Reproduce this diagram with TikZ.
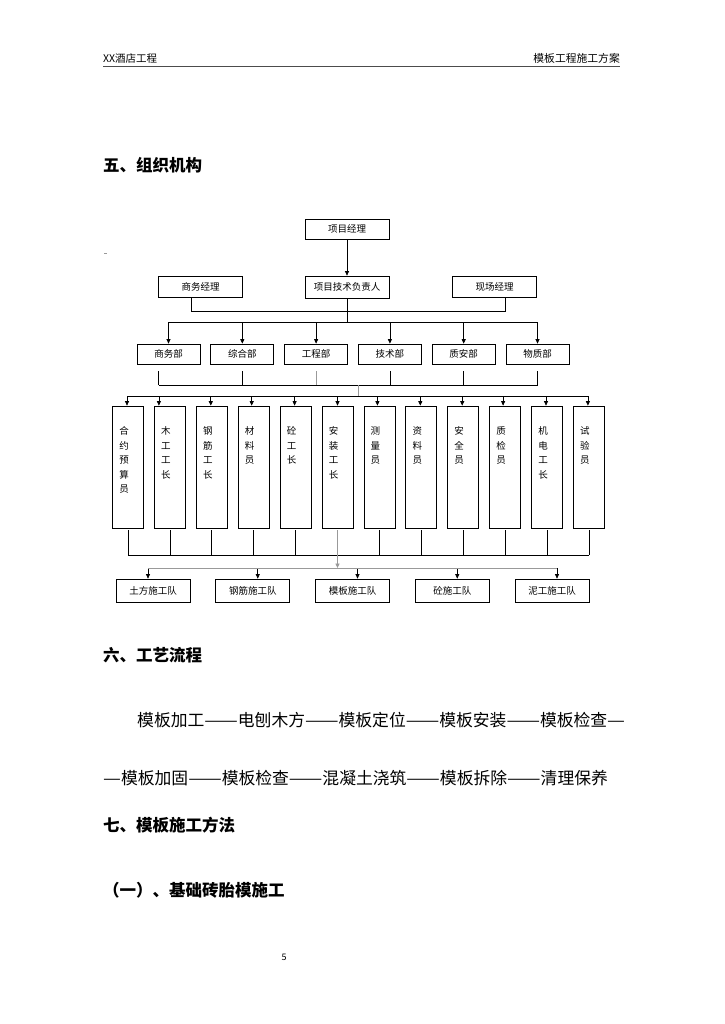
\documentclass[tikz,border=0pt]{standalone}
\usepackage{fontspec}
\setmainfont{Noto Sans CJK SC}
\newfontfamily\dashfont{Noto Sans CJK SC}[FakeStretch=1.19]
\usetikzlibrary{arrows.meta}
\usetikzlibrary{calc}
\usetikzlibrary{positioning}

\begin{document}
\begin{tikzpicture}
  [
    x = 1pt, y = -1pt,
    box/.style = {rectangle, draw = black, line width = 0.7pt, minimum width = 84pt, minimum height = 21pt, inner sep = 0pt, font = \fontsize{9.5}{11}\selectfont},
    dept/.style = {box, minimum width = 63pt, minimum height = 20pt},
    post/.style = {box, minimum width = 31pt, minimum height = 122pt},
    postlabel/.style = {inner sep = 0pt, align = center, font = \fontsize{9.5}{14.5}\selectfont},
    team/.style = {box, minimum width = 74pt, minimum height = 23pt},
    link/.style = {line width = 0.7pt, draw = black},
    greylink/.style = {line width = 0.9pt, draw = black!40},
    flow/.style = {link, -{Triangle[length = 4.5pt, width = 4pt]}},
    heading/.style = {anchor = west, inner sep = 0pt, font = \fontsize{16.5}{18}\selectfont\bfseries},
    body/.style = {anchor = west, inner sep = 0pt, font = \fontsize{16.8}{18}\selectfont},
  ]
  \fill [white] (0,0) rectangle (724,1024);

  % page header
  \node (hdleft) [anchor = base west, inner sep = 0pt, font = \fontsize{10.5}{12}\selectfont] at (103,63) {XX酒店工程};
  \node (hdright) [anchor = base east, inner sep = 0pt, font = \fontsize{10.8}{12}\selectfont] at (620,63) {模板工程施工方案};
  \draw [line width = 0.9pt, black!70] (103,66) -- (620,66);

  \node (sec5) [heading] at (103,165) {五、组织机构};
  \draw [black!40, line width = 0.6pt] (104,253) -- (107,253);

  % managers
  \node (pm) [box, minimum height = 20pt] at (347,229) {项目经理};
  \node (biz) [box] at (200.5,287) {商务经理};
  \node (tech) [box, minimum height = 22pt] at (347,287) {项目技术负责人};
  \node (site) [box] at (494.5,287) {现场经理};
  \coordinate (mgrbar) at (347,311);
  \coordinate (deptbar) at (347,322);
  \coordinate (bizdrop) at ($(biz.south)+(-9,0)$);
  \coordinate (sitedrop) at ($(site.south)+(11,0)$);
  \draw [flow] (pm) -- (tech);
  \draw [link] (bizdrop) |- (sitedrop |- mgrbar) -- (sitedrop);
  \draw [link] (tech.south) -- (tech.south |- deptbar);

  % departments
  \foreach \name [count = \i] in {商务部, 综合部, 工程部, 技术部, 质安部, 物质部}
    \node (d\i) [dept] at ({168.5 + 73.8*(\i-1)}, 354) {\name};
  \draw [link] (d1 |- deptbar) -- (d6 |- deptbar);
  \foreach \i in {1,...,6}
    \draw [flow] (d\i |- deptbar) -- (d\i);

  \coordinate (deptfoot) at (347,385);
  \coordinate (postbar) at (358,396);
  \foreach \i/\dx/\look in {1/-10/link, 2/0/link, 3/0/greylink, 4/0/link, 5/0/link, 6/0/link}
  {
    \coordinate (s\i) at ($(d\i.south)+(\dx,7)$);
    \draw [\look] (s\i) -- (s\i |- deptfoot);
  }
  \draw [link] (s1 |- deptfoot) -- (s6 |- deptfoot);
  \draw [greylink] (postbar |- deptfoot) -- (postbar);

  % posts
  \foreach \txt [count = \i] in {{合\\约\\预\\算\\员}, {木\\工\\工\\长}, {钢\\筋\\工\\长}, {材\\料\\员}, {砼\\工\\长}, {安\\装\\工\\长}, {测\\量\\员}, {资\\料\\员}, {安\\全\\员}, {质\\检\\员}, {机\\电\\工\\长}, {试\\验\\员}}
  {
    \node (p\i) [post] at ({128 + 41.9*(\i-1)}, 467) {};
    \node (l\i) [postlabel, anchor = north] at ($(p\i.north)+(-4,21)$) {\txt};
  }
  \foreach \i/\dx in {1/-1, 2/-11, 3/-1, 4/-2, 5/-1, 6/0, 7/-2, 8/-1, 9/-1, 10/-2, 11/-1, 12/-1}
  {
    \coordinate (a\i) at ($(p\i.north)+(\dx,0)$);
    \draw [flow] (a\i |- postbar) -- (a\i);
  }
  \draw [link] (a1 |- postbar) -- (a12 |- postbar);

  % teams
  \coordinate (postfoot) at (347,555);
  \coordinate (teambar) at (347,568);
  \foreach \i in {1,2,3,4,5,7,8,9,10,11,12}
    \draw [link] ($(p\i.south)+(0,2)$) -- (p\i.south |- postfoot);
  \draw [link] (p1.south |- postfoot) -- (p12.south |- postfoot);
  \draw [flow, draw = black!40, line width = 0.9pt] ($(p6.south)+(0,2)$) -- (p6.south |- teambar);

  \foreach \name [count = \i] in {土方施工队, 钢筋施工队, 模板施工队, 砼施工队, 泥工施工队}
    \node (t\i) [team] at ({153 + 99.75*(\i-1)}, 590.5) {\name};
  \foreach \i/\dx in {1/-5, 2/5, 3/5, 4/5, 5/5}
  {
    \coordinate (b\i) at ($(t\i.north)+(\dx,0)$);
    \draw [flow] (b\i |- teambar) -- (b\i);
  }
  \draw [greylink] (b1 |- teambar) -- (b5 |- teambar);

  % text below the chart
  \node (sec6) [heading] at (103,655) {六、工艺流程};
  \node (flow1) [body] at (137,720) {模板加工{\dashfont ——}电刨木方{\dashfont ——}模板定位{\dashfont ——}模板安装{\dashfont ——}模板检查{\dashfont —}};
  \node (flow2) [body] at (103,778) {{\dashfont —}模板加固{\dashfont ——}模板检查{\dashfont ——}混凝土浇筑{\dashfont ——}模板拆除{\dashfont ——}清理保养};
  \node (sec7) [heading] at (103,825) {七、模板施工方法};
  \node (sec71) [heading] at (103,890) {（一）、基础砖胎模施工};
  \node (pageno) [inner sep = 0pt, font = \fontsize{9}{10}\selectfont] at (284,957) {5};
\end{tikzpicture}
\end{document}
